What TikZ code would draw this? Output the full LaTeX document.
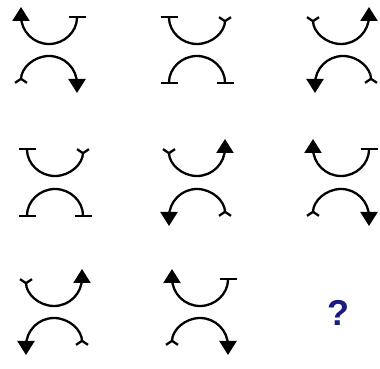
\documentclass[tikz,border=0pt]{standalone}
\usepackage{fontspec}
\usepackage{tikz}
\usetikzlibrary{arrows.meta,positioning}
\newfontfamily\qfont{Liberation Sans}
\definecolor{qNavy}{HTML}{1B1B7E}

\begin{document}
\begin{tikzpicture}[
    x=1pt, y=1pt,
    curve/.style={draw=black, line width=2.3pt},
    head/.tip={Triangle[length=14pt, width=17pt]},
    flat/.tip={Bar[width=17pt]},
    fork/.tip={Straight Barb[reversed, length=4pt, width=12pt]},
    quest/.style={font=\qfont\bfseries\fontsize{36}{40}\selectfont, text=qNavy}
]
\useasboundingbox (0,0) rectangle (380,369);

% ===== ROW 1 =====
% cell 1
\draw[curve, {head}-{flat}] (21,362) -- (21,353) arc[start angle=180, end angle=360, radius=28];
\draw[curve, {fork}-{head}] (21,285) arc[start angle=180, end angle=0, radius=28] -- ++(0,-9);
% cell 2
\draw[curve, {flat}-{fork}] (169,353) arc[start angle=180, end angle=360, radius=28];
\draw[curve, {flat}-{flat}] (169,285) arc[start angle=180, end angle=0, radius=28];
% cell 3
\draw[curve, {fork}-{head}] (313,353) arc[start angle=180, end angle=360, radius=28] -- ++(0,9);
\draw[curve, {head}-{fork}] (315,276) -- (315,285) arc[start angle=180, end angle=0, radius=28];

% ===== ROW 2 =====
% cell 1
\draw[curve, {flat}-{fork}] (27,221) arc[start angle=180, end angle=360, radius=28];
\draw[curve, {flat}-{flat}] (27,152) arc[start angle=180, end angle=0, radius=28];
% cell 2
\draw[curve, {fork}-{head}] (169,221) arc[start angle=180, end angle=360, radius=28] -- ++(0,9);
\draw[curve, {head}-{fork}] (169,143) -- (169,152) arc[start angle=180, end angle=0, radius=28];
% cell 3
\draw[curve, {head}-{flat}] (313,230) -- (313,221) arc[start angle=180, end angle=360, radius=28];
\draw[curve, {fork}-{head}] (313,152) arc[start angle=180, end angle=0, radius=28] -- ++(0,-9);

% ===== ROW 3 =====
% cell 1
\draw[curve, {fork}-{head}] (26,91) arc[start angle=180, end angle=360, radius=28] -- ++(0,9);
\draw[curve, {head}-{fork}] (26,14) -- (26,23) arc[start angle=180, end angle=0, radius=28];
% cell 2
\draw[curve, {head}-{flat}] (172,100) -- (172,91) arc[start angle=180, end angle=360, radius=28];
\draw[curve, {fork}-{head}] (172,23) arc[start angle=180, end angle=0, radius=28] -- ++(0,-9);
% cell 3
\node[quest] (ask) at (338,56) {?};

\end{tikzpicture}
\end{document}
